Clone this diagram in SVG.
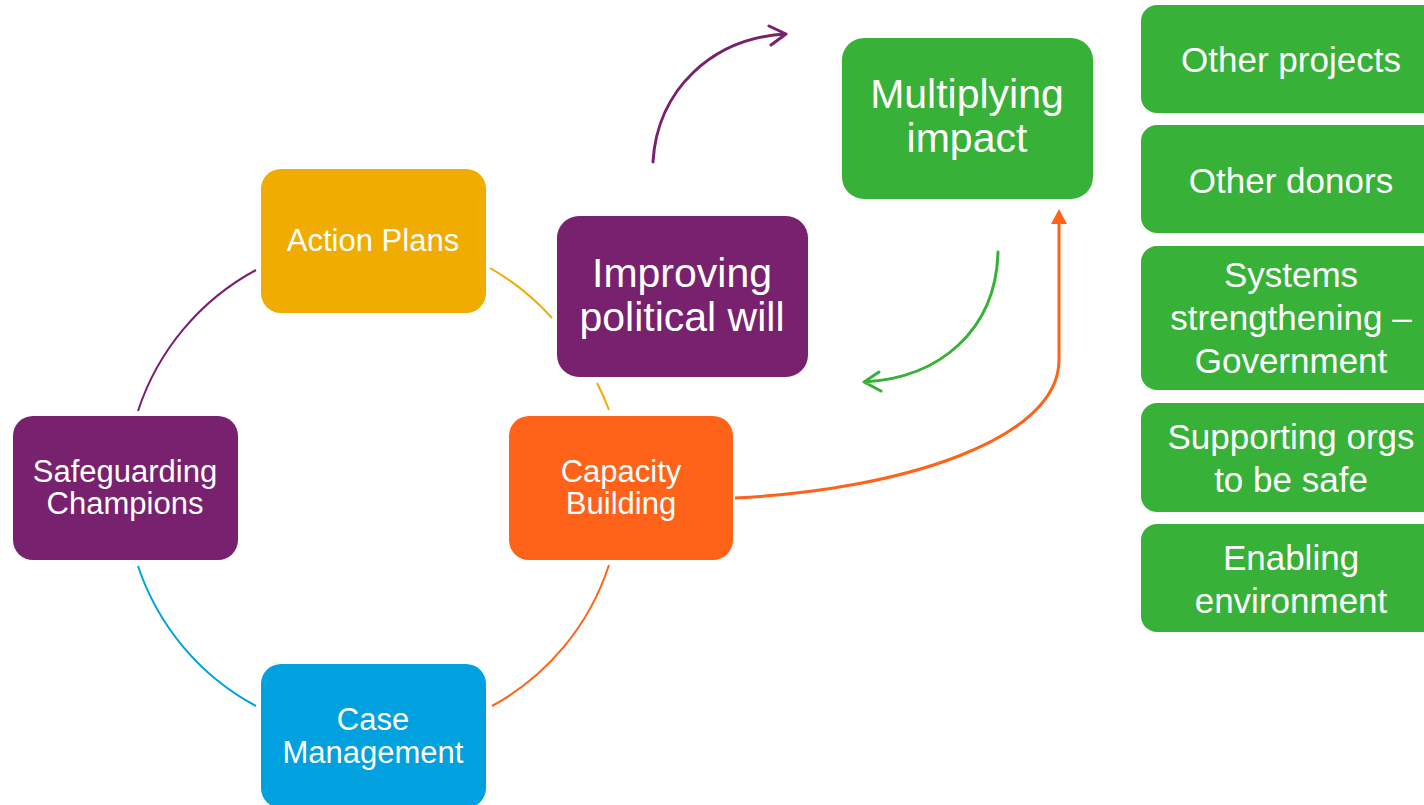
<svg xmlns="http://www.w3.org/2000/svg" width="1424" height="805" viewBox="0 0 1424 805">
<style>
text{font-family:"Liberation Sans",Arial,sans-serif;fill:#fff;text-anchor:middle}
.t31{font-size:31px}
.t42{font-size:41px}
.t36{font-size:35px}
.arc{fill:none;stroke-width:2}
.arr{fill:none;stroke-width:3;stroke-linecap:round;stroke-linejoin:round}
</style>
<rect width="1424" height="805" fill="#fff"/>
<g id="connectors">
<path class="arc" stroke="#78216E" d="M256,270 A248,248 0 0 0 138,411"/>
<path class="arc" stroke="#00A1DE" d="M138,566 A248,248 0 0 0 256,706"/>
<path class="arc" stroke="#FF6319" d="M609,565 A248,248 0 0 1 492,706"/>
<path class="arc" stroke="#F0AC00" d="M490,268 A248,248 0 0 1 552,318"/>
<path class="arc" stroke="#F0AC00" d="M597,383 A248,248 0 0 1 609,410"/>
<path class="arr" stroke="#78216E" d="M653,162 C657,90 712,38 786,34 M769,26 L786,34 L771,45"/>
<path class="arr" stroke="#37B137" d="M998,252 C996,330 940,378 864,382 M879,372 L864,382 L881,391"/>
<path fill="none" stroke="#FF6319" stroke-width="3" d="M735,498 C900,490 1059,440 1059,360 L1059,222"/>
<polygon fill="#FF6319" points="1059,209 1051,224 1067,224"/>
</g>
<g id="action-plans"><rect x="261" y="169" width="225" height="144" rx="20" fill="#F0AC00"/><text class="t31" x="373" y="251">Action Plans</text></g>
<g id="safeguarding-champions"><rect x="13" y="416" width="225" height="144" rx="20" fill="#78216E"/><text class="t31" x="125" y="482">Safeguarding</text><text class="t31" x="125" y="514">Champions</text></g>
<g id="case-management"><rect x="261" y="664" width="225" height="144" rx="20" fill="#00A1DE"/><text class="t31" x="373" y="730">Case</text><text class="t31" x="373" y="763">Management</text></g>
<g id="capacity-building"><rect x="509" y="416" width="224" height="144" rx="20" fill="#FF6319"/><text class="t31" x="621" y="482">Capacity</text><text class="t31" x="621" y="514">Building</text></g>
<g id="improving-political-will"><rect x="557" y="216" width="251" height="161" rx="22" fill="#78216E"/><text class="t42" x="682" y="287">Improving</text><text class="t42" x="682" y="331">political will</text></g>
<g id="multiplying-impact"><rect x="842" y="38" width="251" height="161" rx="22" fill="#37B137"/><text class="t42" x="967" y="108">Multiplying</text><text class="t42" x="967" y="152">impact</text></g>
<g id="other-projects"><rect x="1141" y="5" width="300" height="108" rx="16" fill="#37B137"/><text class="t36" x="1291" y="72">Other projects</text></g>
<g id="other-donors"><rect x="1141" y="125" width="300" height="108" rx="16" fill="#37B137"/><text class="t36" x="1291" y="193">Other donors</text></g>
<g id="systems-strengthening"><rect x="1141" y="246" width="300" height="144" rx="16" fill="#37B137"/><text class="t36" x="1291" y="287">Systems</text><text class="t36" x="1291" y="330">strengthening –</text><text class="t36" x="1291" y="373">Government</text></g>
<g id="supporting-orgs"><rect x="1141" y="403" width="300" height="109" rx="16" fill="#37B137"/><text class="t36" x="1291" y="449">Supporting orgs</text><text class="t36" x="1291" y="492">to be safe</text></g>
<g id="enabling-environment"><rect x="1141" y="524" width="300" height="108" rx="16" fill="#37B137"/><text class="t36" x="1291" y="570">Enabling</text><text class="t36" x="1291" y="613">environment</text></g>
</svg>
